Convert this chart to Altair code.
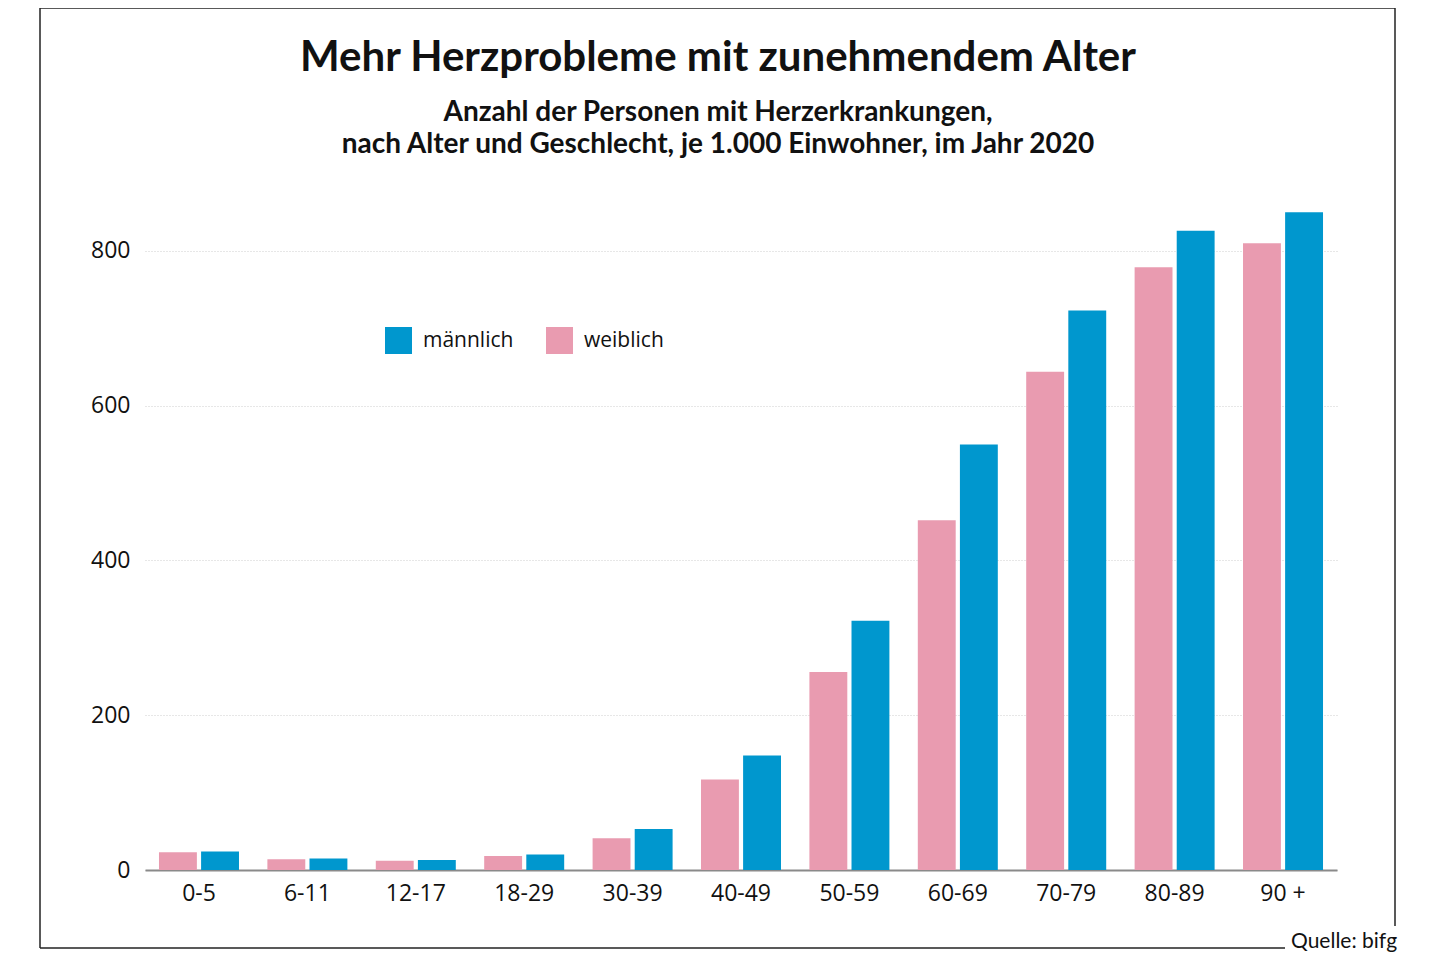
import altair as alt
import pandas as pd

# ---- data ----
categories = ["0-5", "6-11", "12-17", "18-29", "30-39", "40-49",
              "50-59", "60-69", "70-79", "80-89", "90 +"]
weiblich = [23, 14, 12, 18, 41, 117, 256, 452, 644, 779, 810]
maennlich = [24, 15, 13, 20, 53, 148, 322, 550, 723, 826, 850]
series = ["männlich", "weiblich"]
y_ticks = [0, 200, 400, 600, 800]

TITLE = "Mehr Herzprobleme mit zunehmendem Alter"
SUB1 = "Anzahl der Personen mit Herzerkrankungen,"
SUB2 = "nach Alter und Geschlecht, je 1.000 Einwohner, im Jahr 2020"
SOURCE = "Quelle: bifg"

BLUE = "#0097CE"
PINK = "#E99BB0"
TFONT = "Lato"
LFONT = "Open Sans"

rows = []
for c, w, m in zip(categories, weiblich, maennlich):
    rows.append({"Alter": c, "Geschlecht": "weiblich", "Wert": w})
    rows.append({"Alter": c, "Geschlecht": "männlich", "Wert": m})
df = pd.DataFrame(rows)

bars = alt.Chart(df).mark_bar().encode(
    x=alt.X("Alter:N", sort=categories,
            scale=alt.Scale(paddingInner=0.262, paddingOuter=0.129),
            axis=alt.Axis(title=None, labelAngle=0, ticks=False, domain=True,
                          domainColor="#8a8a8a", domainWidth=2, labelPadding=12,
                          labelFont=LFONT, labelFontSize=23, labelColor="#111",
                          grid=False)),
    xOffset=alt.XOffset("Geschlecht:N", sort=["weiblich", "männlich"],
                        scale=alt.Scale(paddingInner=0.1)),
    y=alt.Y("Wert:Q", scale=alt.Scale(domain=[0, 880], nice=False),
            axis=alt.Axis(title=None, values=y_ticks, ticks=False, domain=False,
                          labelPadding=15, labelFont=LFONT, labelFontSize=23,
                          labelColor="#111", grid=True, gridColor="#cfcfcf",
                          gridDash=[1, 2], gridWidth=1)),
    color=alt.Color("Geschlecht:N",
                    scale=alt.Scale(domain=series, range=[BLUE, PINK]),
                    legend=alt.Legend(title=None, orient="none", legendX=240,
                                      legendY=138, direction="horizontal",
                                      symbolType="square", symbolSize=729,
                                      symbolStrokeWidth=0, symbolOpacity=1,
                                      labelFont=LFONT, labelFontSize=21,
                                      labelColor="#111", labelOffset=11,
                                      columnPadding=32)),
)

one = pd.DataFrame({"t": [0]})

def txt(s, x, y, size, weight, align="center", font=TFONT):
    return alt.Chart(pd.DataFrame({"t": [s]})).mark_text(
        font=font, fontSize=size, fontWeight=weight, align=align,
        baseline="alphabetic", color="#111").encode(
        text="t:N", x=alt.value(x), y=alt.value(y))

def rule(x, y, x2, y2):
    return alt.Chart(one).mark_rule(color="#222", strokeWidth=1.5).encode(
        x=alt.value(x), y=alt.value(y), x2=alt.value(x2), y2=alt.value(y2))

frame = (rule(-105, -181, 1250, -181) + rule(-105, -181, -105, 759)
         + rule(1250, -181, 1250, 737) + rule(-105, 759, 1140, 759))

texts = (txt(TITLE, 573, -118, 42, "bold")
         + txt(SUB1, 573, -68, 28, "bold")
         + txt(SUB2, 573, -36, 28, "bold")
         + txt(SOURCE, 1146, 759, 21, "normal", align="left"))

chart = alt.layer(bars, frame, texts).properties(
    width=1192, height=681,
    padding={"left": 137, "top": 181, "right": 95, "bottom": 90},
    autosize=alt.AutoSizeParams(type="none"),
    background="white",
).configure_view(stroke=None)

chart.save("out.html", embed_options={"renderer": "svg", "actions": False})
